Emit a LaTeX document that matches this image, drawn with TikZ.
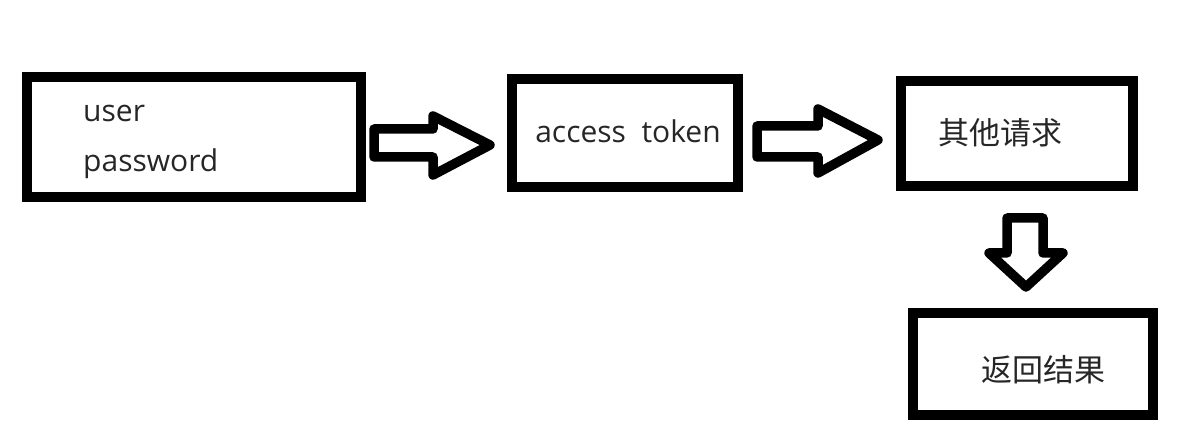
\documentclass[tikz,border=0pt]{standalone}
\usepackage{fontspec}
\setmainfont{Open Sans}
\newfontfamily\cjk{Noto Sans CJK SC}
\begin{document}
\begin{tikzpicture}[x=1pt,y=-1pt]
        \useasboundingbox (0,0) rectangle (1195,443);
        \begin{scope}[every node/.style={rectangle,draw,line width=10pt,inner sep=0pt}]
            \node[minimum width=334pt,minimum height=120pt] (1) at (194,137) {};
            \node[minimum width=226pt,minimum height=108pt] (2) at (625,133) {};
            \node[minimum width=232pt,minimum height=105pt] (3) at (1017,133.5) {};
            \node[minimum width=240pt,minimum height=102pt] (4) at (1033,364) {};
        \end{scope}
        \begin{scope}[every node/.style={inner sep=0pt,text=black!85,font=\fontsize{30}{36}\selectfont}]
            \node[anchor=base west] (user) at (83,122) {user};
            \node[anchor=base west] (pw) at (83,172) {password};
            \node[anchor=base] (tok) at (628,143) {access\ \ token};
            \node[anchor=base,font=\cjk\fontsize{31}{36}\selectfont] (req) at (1000,145) {其他请求};
            \node[anchor=base,font=\cjk\fontsize{31}{36}\selectfont] (res) at (1043,382) {返回结果};
        \end{scope}
        \begin{scope}[line width=9.5pt,line join=round]
            \draw (374,129) -- (433,129) -- (433,116) -- (490,145) -- (433,175) -- (433,157) -- (374,157) -- cycle;
            \draw (757,126) -- (818,126) -- (818,109) -- (878,140) -- (818,173) -- (818,157) -- (757,157) -- cycle;
            \draw (1007,218) -- (1043,218) -- (1043,253) -- (1063,253) -- (1026,287) -- (989,253) -- (1007,253) -- cycle;
        \end{scope}
\end{tikzpicture}
\end{document}
